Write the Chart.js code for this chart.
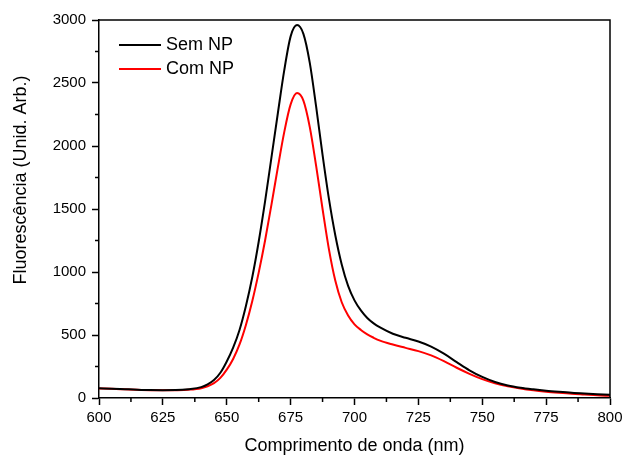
<!DOCTYPE html>
<html>
<head>
<meta charset="utf-8">
<script src="https://cdn.jsdelivr.net/npm/chart.js@4/dist/chart.umd.min.js"></script>
<style>
  html, body { margin: 0; padding: 0; background: #fff; }
  #wrap { width: 624px; height: 457px; }
</style>
</head>
<body>
<div id="wrap"><canvas id="chart" width="624" height="457"></canvas></div>
<script>
const wavelengths = [600, 605, 610, 615, 620, 625, 630, 635, 640,
  642.5, 645, 647.5, 650, 652.5, 655, 657.5, 660, 662.5, 665, 667.5, 670, 672.5, 675, 677.5,
  680, 682.5, 685, 687.5, 690, 692.5, 695, 697.5, 700, 702.5, 705, 707.5, 710,
  715, 720, 725, 730, 735, 740, 745, 750, 755, 760, 765, 770, 775, 780, 785, 790, 795, 800];

const semNP = [77, 74, 70, 66, 63, 62, 63, 70, 86,
  108, 142, 200, 290, 400, 540, 730, 960, 1240, 1560, 1910, 2260, 2600, 2870, 2960,
  2890, 2660, 2310, 1930, 1580, 1290, 1060, 890, 775, 695, 635, 592, 560,
  510, 478, 448, 408, 352, 285, 220, 167, 127, 100, 82, 69, 58, 49, 41, 35, 30, 25];

const comNP = [76, 73, 69, 65, 62, 61, 62, 66, 78,
  93, 118, 160, 225, 310, 425, 580, 770, 995, 1250, 1535, 1830, 2110, 2330, 2420,
  2360, 2150, 1840, 1500, 1180, 930, 760, 655, 585, 540, 505, 478, 455,
  424, 398, 372, 338, 292, 240, 192, 150, 117, 93, 75, 61, 50, 41, 33, 27, 21, 17];

const seriesNames = ['Sem NP', 'Com NP'];
const xTitle = 'Comprimento de onda (nm)';
const yTitle = 'Fluorescência (Unid. Arb.)';

const FONT = '"Liberation Sans", Arial, sans-serif';

const toPoints = vals => vals.map((v, i) => ({ x: wavelengths[i], y: v }));

// frame, minor ticks, inner legend, y title
const extras = {
  id: 'extras',
  afterDraw(chart) {
    const { ctx, chartArea: a, scales: { x, y } } = chart;
    ctx.save();
    ctx.strokeStyle = '#000';
    ctx.lineWidth = 1.5;
    ctx.beginPath();
    ctx.moveTo(a.left, a.top); ctx.lineTo(a.right, a.top); ctx.lineTo(a.right, a.bottom);
    // minor ticks
    for (let v = x.min + 12.5; v < x.max; v += 25) {
      const px = x.getPixelForValue(v);
      ctx.moveTo(px, a.bottom); ctx.lineTo(px, a.bottom + 4);
    }
    for (let v = y.min + 250; v < y.max; v += 500) {
      const py = y.getPixelForValue(v);
      ctx.moveTo(a.left, py); ctx.lineTo(a.left - 4, py);
    }
    ctx.stroke();

    // legend
    ctx.font = '18px ' + FONT;
    ctx.textBaseline = 'middle';
    ctx.fillStyle = '#000';
    chart.data.datasets.forEach((ds, i) => {
      const ly = 45 + i * 24;
      ctx.strokeStyle = ds.borderColor;
      ctx.lineWidth = 2;
      ctx.beginPath(); ctx.moveTo(119, ly); ctx.lineTo(161, ly); ctx.stroke();
      ctx.fillText(ds.label, 166, ly);
    });

    // y title
    ctx.translate(21, 180);
    ctx.rotate(-Math.PI / 2);
    ctx.textAlign = 'center';
    ctx.fillText(yTitle, 0, 0);
    ctx.restore();
  }
};

new Chart(document.getElementById('chart'), {
  type: 'line',
  data: {
    datasets: [
      { label: seriesNames[0], data: toPoints(semNP), borderColor: '#000000', borderWidth: 2, pointRadius: 0, cubicInterpolationMode: 'monotone' },
      { label: seriesNames[1], data: toPoints(comNP), borderColor: '#ff0000', borderWidth: 2, pointRadius: 0, cubicInterpolationMode: 'monotone' }
    ]
  },
  options: {
    responsive: false,
    animation: false,
    layout: { padding: { top: 20, right: 14, left: 0, bottom: 0 } },
    plugins: { legend: { display: false }, tooltip: { enabled: false } },
    scales: {
      x: {
        type: 'linear', min: 600, max: 800,
        ticks: { stepSize: 25, color: '#000', font: { family: FONT, size: 15 }, padding: 4, maxRotation: 0, callback: v => String(v) },
        grid: { drawOnChartArea: false, tickLength: 7, color: '#000', tickWidth: 1.5 },
        border: { color: '#000', width: 1.5 },
        title: { display: true, text: xTitle, color: '#000', font: { family: FONT, size: 18 }, padding: { top: 0, bottom: 0 } },
        afterFit(s) { s.height = 59; s.paddingLeft = 0; s.paddingRight = 0; }
      },
      y: {
        min: 0, max: 3000,
        ticks: { stepSize: 500, color: '#000', font: { family: FONT, size: 15 }, padding: 6, callback: v => String(v) },
        grid: { drawOnChartArea: false, tickLength: 7, color: '#000', tickWidth: 1.5 },
        border: { color: '#000', width: 1.5 },
        afterFit(s) { s.width = 99; s.paddingTop = 0; s.paddingBottom = 0; }
      }
    }
  },
  plugins: [extras]
});
</script>
</body>
</html>
